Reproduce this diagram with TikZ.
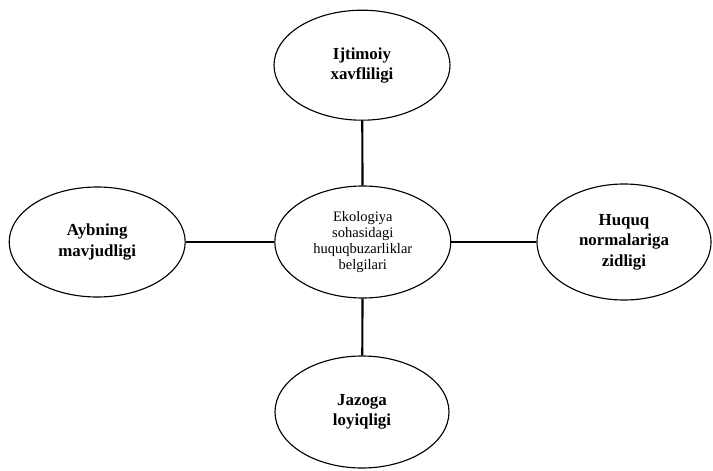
\documentclass[tikz,border=0pt]{standalone}
\usepackage{fontspec}
\setmainfont{Liberation Serif}
\usetikzlibrary{shapes.geometric}

\begin{document}
\begin{tikzpicture}
        \tikzstyle{every node}=[draw,ellipse,line width=0.8pt,inner sep=0pt,minimum width=4.4cm,minimum height=2.8cm,align=center]
        \tikzstyle{sign}=[font=\bfseries\fontsize{12}{14.5}\selectfont]
        \tikzstyle{link}=[line width=1.5pt]
        \useasboundingbox (0,0) rectangle (17.825,-11.775);
        \node[font=\fontsize{10.3}{11.2}\selectfont] (mid) at (9.07,-6.05) {Ekologiya\\sohasidagi\\huquqbuzarliklar\\belgilari};
        \node[sign,minimum height=2.75cm] (top) at (9.05,-1.63) {Ijtimoiy\\xavfliligi};
        \node[sign,minimum height=2.75cm] (left) at (2.43,-6.05) {Aybning\\mavjudligi};
        \node[sign,minimum width=4.35cm,minimum height=2.9cm] (right) at (15.6,-6.05) {Huquq\\normalariga\\zidligi};
        \node[sign,minimum width=4.35cm] (bottom) at (9.05,-10.3) {Jazoga\\loyiqligi};
        \draw[link] (top) -- (mid);
        \draw[link] (mid) -- (bottom);
        \draw[link] (left) -- (mid);
        \draw[link] (mid) -- (right);
    \end{tikzpicture}
\end{document}
